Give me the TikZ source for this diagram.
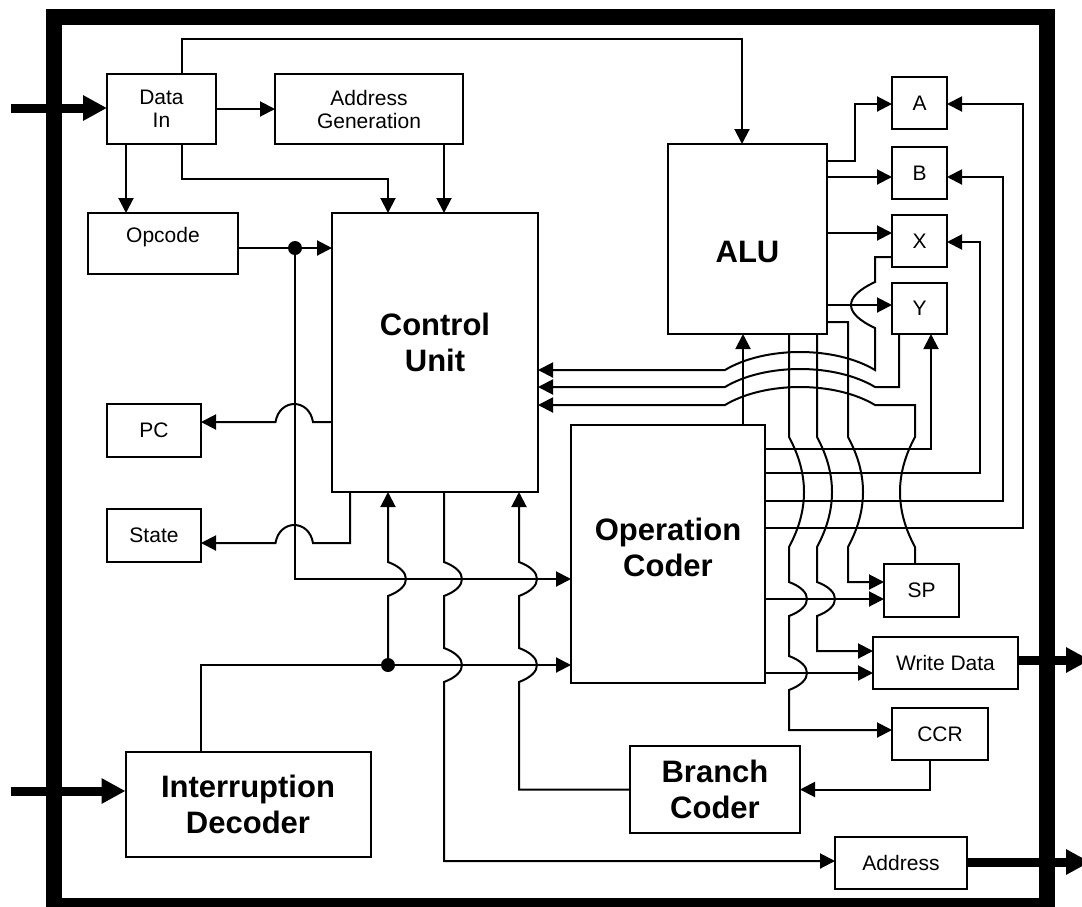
\documentclass[tikz,border=0pt]{standalone}
\usepackage{fontspec}
\setmainfont{Liberation Sans}
\usetikzlibrary{arrows.meta}
\begin{document}
\begin{tikzpicture}[x=1pt,y=-1pt,
  txt/.style={font=\fontsize{21}{23}\selectfont, align=center, inner sep=0pt},
  btxt/.style={font=\bfseries\fontsize{31}{36}\selectfont, align=center, inner sep=0pt},
  box/.style={draw, line width=2pt, inner sep=0pt, outer sep=0pt, txt},
  bx/.style 2 args={box, minimum width=#1pt, minimum height=#2pt},
  bold/.style={btxt},
  wire/.style={line width=2pt},
  arr/.style={wire, -{Triangle[length=15pt,width=15pt]}},
  fat/.style={line width=9pt, -{Triangle[length=24pt,width=24pt]}},
  dot/.style={fill, circle, inner sep=0pt, minimum size=14pt},
]
\useasboundingbox (0,0) rectangle (1082,906);
\draw[line width=16pt] (54,17) rectangle (1047,906);

% boxes
\node[bx={109}{70}] (datain) at (161.5,109) {Data\\In};
\node[bx={188}{70}] (addrgen) at (369,109) {Address\\Generation};
\node[bx={150}{61}, label={[txt,yshift=6pt]center:Opcode}] (opcode) at (163,243.5) {};
\node[bx={206}{279}, label={[btxt,yshift=10pt]center:{Control\\Unit}}] (cu) at (435,352.5) {};
\node[bx={159}{190}, label={[btxt,yshift=-13pt]center:ALU}] (alu) at (747.5,239) {};
\node[bx={55}{52}] (A) at (919.5,103) {A};
\node[bx={55}{52}] (B) at (919.5,173) {B};
\node[bx={55}{52}] (X) at (919.5,241) {X};
\node[bx={55}{51}] (Y) at (919.5,308.5) {Y};
\node[bx={94}{53}] (pc) at (154,430.5) {PC};
\node[bx={94}{53}] (state) at (154,535.5) {State};
\node[bx={194}{258}, label={[btxt,yshift=7pt]center:{Operation\\Coder}}] (opc) at (668,554) {};
\node[bx={75}{53}] (sp) at (921.5,590.5) {SP};
\node[bx={145}{52}] (wd) at (945.5,663) {Write Data};
\node[bx={96}{52}] (ccr) at (940,734) {CCR};
\node[bx={170}{87}, bold] (bc) at (715,789.5) {Branch\\Coder};
\node[bx={245}{105}, bold] (intdec) at (248,804.5) {Interruption\\Decoder};
\node[bx={132}{52}] (addr) at (901,863) {Address};

% external arrows
\coordinate (in1) at (10.7,108);
\coordinate (in2) at (10.7,791);
\coordinate (out1) at (1090,660);
\coordinate (out2) at (1090,862);
\draw[fat] (in1) -- (in1 -| datain.west);
\draw[fat] (in2) -- (in2 -| intdec.west);
\draw[fat] (wd.east |- out1) -- (out1);
\draw[fat] (addr.east |- out2) -- (out2);

% top-left wiring
\draw[arr] (datain.east) -- (addrgen.west);
\draw[arr] (182,0 |- datain.north) -- (182,39) -- (742,39) -- (742,0 |- alu.north);
\draw[arr] (126,0 |- datain.south) -- (126,0 |- opcode.north);
\draw[arr] (182,0 |- datain.south) -- (182,179) -- (388,179) -- (388,0 |- cu.north);
\draw[arr] (444,0 |- addrgen.south) -- (444,0 |- cu.north);

\node[dot] (d1) at (295,248) {};
\draw[arr] (opcode.east |- d1) -- (cu.west |- d1);
\draw[arr] (d1) -- (295,579) -- (opc.west |- 0,579);

\draw[arr] (cu.west |- 0,422) -- (313,422) .. controls +(-4,-24) and +(4,-24) .. ++(-37.5,0) -- (pc.east |- 0,422);
\draw[arr] (350,0 |- cu.south) -- (350,543) -- (313,543) .. controls +(-4,-24) and +(4,-24) .. ++(-37.5,0) -- (state.east |- 0,543);

\node[dot] (d2) at (388,665) {};
\draw[arr] (201,0 |- intdec.north) -- (201,0 |- d2) -- (opc.west |- d2);
\draw[arr] (d2) -- (388,596) .. controls +(24,-9) and +(24,9) .. ++(0,-34) -- (388,0 |- cu.south);
\draw[arr] (444,0 |- cu.south) -- (444,562) .. controls +(24,9) and +(24,-9) .. ++(0,34)
   -- (444,648) .. controls +(24,9) and +(24,-9) .. ++(0,34) -- (444,861) -- (addr.west |- 0,861);
\draw[arr] (bc.west) -- (519,0 |- bc.west) -- (519,682) .. controls +(24,-9) and +(24,9) .. ++(0,-34)
   -- (519,596) .. controls +(24,-9) and +(24,9) .. ++(0,-34) -- (519,0 |- cu.south);
\draw[arr] (930,0 |- ccr.south) -- (930,0 |- bc.east) -- (bc.east);
\draw[arr] (743,0 |- opc.north) -- (743,0 |- alu.south);

% ALU outputs
\draw[arr] (alu.east |- 0,161) -- (855,161) -- (855,104) -- (A.west |- 0,104);
\draw[arr] (alu.east |- 0,177) -- (B.west |- 0,177);
\draw[arr] (alu.east |- 0,233) -- (X.west |- 0,233);
\draw[arr] (alu.east |- 0,305) -- (Y.west |- 0,305);

% feedback to control unit
\draw[arr] (X.west |- 0,257) -- (875,257) -- (875,282) .. controls +(-32,15) and +(-32,-15) .. ++(0,46)
   -- (875,370) .. controls +(-40,-24) and +(40,-24) .. ++(-150,0) -- (cu.east |- 0,370);
\draw[arr] (899,0 |- Y.south) -- (899,387) -- (875,387) .. controls +(-40,-24) and +(40,-24) .. ++(-150,0) -- (cu.east |- 0,387);
\draw[arr] (915,0 |- sp.north) -- (915,547) .. controls +(-20,-37) and +(-20,37) .. ++(0,-110)
   -- (915,405) -- (875,405) .. controls +(-40,-24) and +(40,-24) .. ++(-150,0) -- (cu.east |- 0,405);

% ALU to SP / Write Data / CCR
\draw[arr] (alu.east |- 0,322) -- (848,322) -- (848,437) .. controls +(20,37) and +(20,-37) .. ++(0,110)
   -- (848,582) -- (sp.west |- 0,582);
\draw[arr] (817,0 |- alu.south) -- (817,437) .. controls +(20,37) and +(20,-37) .. ++(0,110)
   -- (817,582) .. controls +(24,9) and +(24,-9) .. ++(0,34) -- (817,651) -- (wd.west |- 0,651);
\draw[arr] (789,0 |- alu.south) -- (789,437) .. controls +(20,37) and +(20,-37) .. ++(0,110)
   -- (789,582) .. controls +(24,9) and +(24,-9) .. ++(0,34)
   -- (789,656) .. controls +(24,9) and +(24,-9) .. ++(0,34) -- (789,730) -- (ccr.west |- 0,730);

% Operation coder outputs
\draw[arr] (opc.east |- 0,449) -- (931,449) -- (931,0 |- Y.south);
\draw[arr] (opc.east |- 0,473) -- (980,473) -- (980,242) -- (X.east |- 0,242);
\draw[arr] (opc.east |- 0,501) -- (1003,501) -- (1003,177) -- (B.east |- 0,177);
\draw[arr] (opc.east |- 0,528) -- (1023,528) -- (1023,104) -- (A.east |- 0,104);
\draw[arr] (opc.east |- 0,599) -- (sp.west |- 0,599);
\draw[arr] (opc.east |- 0,673) -- (wd.west |- 0,673);
\end{tikzpicture}
\end{document}
